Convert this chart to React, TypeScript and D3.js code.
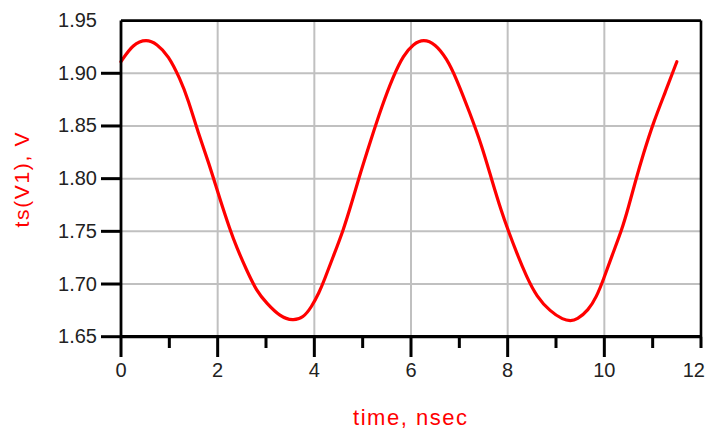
import React from "react";
import * as d3 from "d3";

const timeNs = [0, 0.25, 0.53, 0.74, 0.98, 1.22, 1.39, 1.6, 1.81, 2.05, 2.26, 2.39, 2.6, 2.81, 3.01, 3.29, 3.56, 3.77, 3.94, 4.1, 4.2, 4.39, 4.6, 4.78, 4.95, 5.15, 5.39, 5.64, 5.84, 6.05, 6.26, 6.5, 6.74, 6.94, 7.22, 7.46, 7.67, 7.87, 8.01, 8.19, 8.39, 8.6, 8.88, 9.15, 9.3, 9.43, 9.67, 9.84, 9.98, 10.15, 10.36, 10.5, 10.64, 10.81, 11.02, 11.26, 11.5];
const voltage = [1.911, 1.928, 1.9325, 1.928, 1.917, 1.895, 1.875, 1.843, 1.816, 1.78, 1.751, 1.735, 1.713, 1.693, 1.682, 1.669, 1.665, 1.668, 1.678, 1.692, 1.703, 1.726, 1.751, 1.778, 1.805, 1.834, 1.868, 1.898, 1.917, 1.928, 1.9325, 1.928, 1.914, 1.895, 1.862, 1.832, 1.799, 1.769, 1.751, 1.729, 1.707, 1.688, 1.674, 1.666, 1.665, 1.666, 1.675, 1.688, 1.704, 1.726, 1.751, 1.773, 1.797, 1.824, 1.854, 1.882, 1.911];
const xMajorTicks = [0, 2, 4, 6, 8, 10, 12];
const xMinorTicks = [1, 3, 5, 7, 9, 11];
const yTicks = [1.65, 1.7, 1.75, 1.8, 1.85, 1.9, 1.95];
const xTitle = "time, nsec";
const yTitle = "ts(V1), V";

export default function App() {
  const W = 706, H = 432;
  const left = 121, right = 701, top = 20.6, bottom = 336.7;
  const x = d3.scaleLinear().domain([0, 12]).range([left, right]);
  const y = d3.scaleLinear().domain([1.65, 1.95]).range([bottom, top]);
  const pts: [number, number][] = timeNs.map((t, i) => [t, voltage[i]]);
  const line = d3.line<[number, number]>().x(d => x(d[0])).y(d => y(d[1])).curve(d3.curveBasis);
  const font = "'Liberation Sans', Arial, sans-serif";
  return (
    <svg width={W} height={H} style={{ position: "absolute", left: 0, top: 0, background: "#fff" }}>
      {/* grid */}
      {xMajorTicks.slice(1, -1).map(t => (
        <line key={"gx" + t} x1={x(t)} x2={x(t)} y1={top} y2={bottom} stroke="#c0c0c0" strokeWidth={2} />
      ))}
      {yTicks.slice(1, -1).map(v => (
        <line key={"gy" + v} x1={left} x2={right} y1={y(v)} y2={y(v)} stroke="#c0c0c0" strokeWidth={2} />
      ))}
      {/* curve */}
      <path d={line(pts) || ""} fill="none" stroke="#ff0000" strokeWidth={3.2} strokeLinejoin="round" strokeLinecap="round" />
      {/* frame */}
      <line x1={left} x2={right} y1={top} y2={top} stroke="#000" strokeWidth={2.6} />
      <line x1={right} x2={right} y1={top} y2={bottom} stroke="#000" strokeWidth={2.6} />
      <line x1={left} x2={left} y1={top} y2={bottom} stroke="#000" strokeWidth={2.8} />
      <line x1={left} x2={right + 1} y1={bottom} y2={bottom} stroke="#000" strokeWidth={3.2} />
      {/* y ticks */}
      {yTicks.map(v => (
        <g key={"yt" + v}>
          {v < 1.94 && <line x1={101} x2={left} y1={y(v)} y2={y(v)} stroke="#000" strokeWidth={3} />}
          <text x={97} y={y(v) + 6.5} textAnchor="end" fontFamily={font} fontSize={20} fill="#222">{v.toFixed(2)}</text>
        </g>
      ))}
      {/* x ticks */}
      {xMajorTicks.map(t => (
        <g key={"xt" + t}>
          <line x1={x(t)} x2={x(t)} y1={bottom} y2={t === 12 ? 348 : 357} stroke="#000" strokeWidth={3} />
          <text x={t === 12 ? W - 1 : x(t)} y={377} textAnchor={t === 12 ? "end" : "middle"} fontFamily={font} fontSize={20} fill="#222">{t}</text>
        </g>
      ))}
      {xMinorTicks.map(t => (
        <line key={"xm" + t} x1={x(t)} x2={x(t)} y1={bottom} y2={348} stroke="#000" strokeWidth={3} />
      ))}
      {/* titles */}
      <text x={410} y={425} textAnchor="middle" fontFamily={font} fontSize={22} fill="#ff0000" textLength={114} lengthAdjust="spacing">{xTitle}</text>
      <text transform="translate(29,180) rotate(-90)" textAnchor="middle" fontFamily={font} fontSize={21} fill="#ff0000" textLength={95} lengthAdjust="spacing">{yTitle}</text>
    </svg>
  );
}
